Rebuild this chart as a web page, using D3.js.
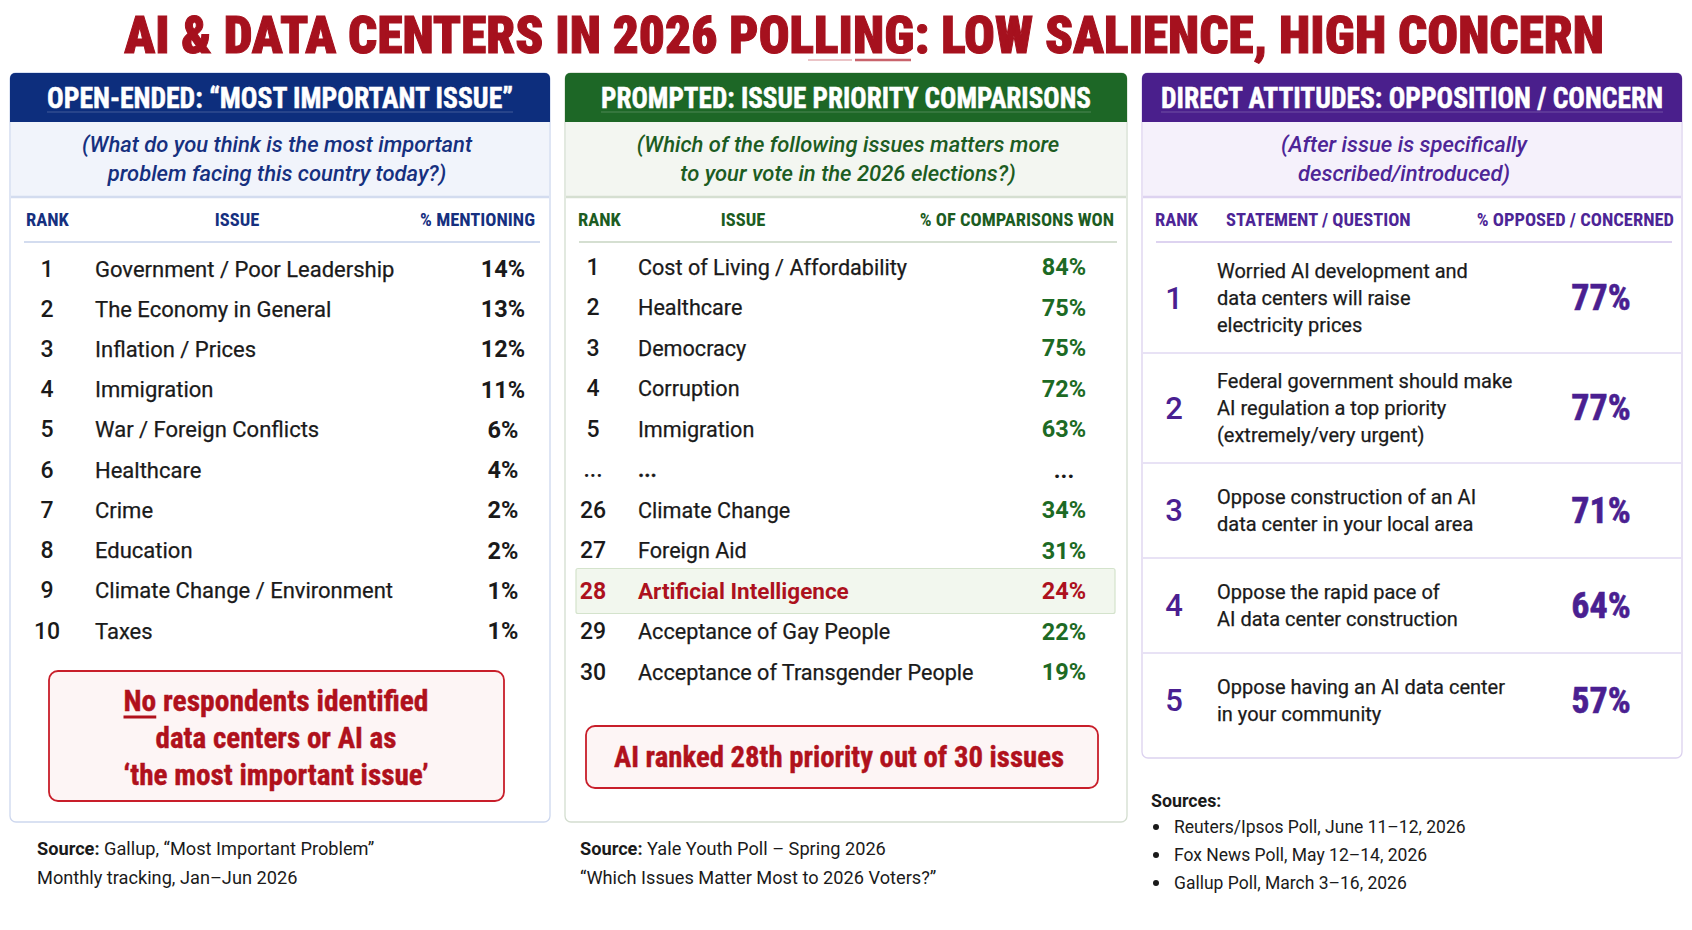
<!DOCTYPE html>
<html><head><meta charset="utf-8">
<script src="https://cdn.jsdelivr.net/npm/d3@7"></script>
<style>body{margin:0;background:#fff}svg{display:block}</style>
</head><body>
<svg id="chart" width="1692" height="930"></svg>
<script>
// ---------------- DATA ----------------
const titleText = "AI & DATA CENTERS IN 2026 POLLING: LOW SALIENCE, HIGH CONCERN";
const panelTitles = ["OPEN-ENDED: “MOST IMPORTANT ISSUE”", "PROMPTED: ISSUE PRIORITY COMPARISONS", "DIRECT ATTITUDES: OPPOSITION / CONCERN"];
const panelQuestions = [
  ["(What do you think is the most important", "problem facing this country today?)"],
  ["(Which of the following issues matters more", "to your vote in the 2026 elections?)"],
  ["(After issue is specifically", "described/introduced)"]
];
const columnHeaders = [
  ["RANK", "ISSUE", "% MENTIONING"],
  ["RANK", "ISSUE", "% OF COMPARISONS WON"],
  ["RANK", "STATEMENT / QUESTION", "% OPPOSED / CONCERNED"]
];
const openRanks = ["1","2","3","4","5","6","7","8","9","10"];
const openIssues = ["Government / Poor Leadership","The Economy in General","Inflation / Prices","Immigration","War / Foreign Conflicts","Healthcare","Crime","Education","Climate Change / Environment","Taxes"];
const openPct = [14,13,12,11,6,4,2,2,1,1];

const promptedRanks = ["1","2","3","4","5","...","26","27","28","29","30"];
const promptedIssues = ["Cost of Living / Affordability","Healthcare","Democracy","Corruption","Immigration","...","Climate Change","Foreign Aid","Artificial Intelligence","Acceptance of Gay People","Acceptance of Transgender People"];
const promptedPct = [84,75,75,72,63,null,34,31,24,22,19];
const highlightRank = "28";

const attitudeRanks = ["1","2","3","4","5"];
const attitudeStatements = [
  ["Worried AI development and","data centers will raise","electricity prices"],
  ["Federal government should make","AI regulation a top priority","(extremely/very urgent)"],
  ["Oppose construction of an AI","data center in your local area"],
  ["Oppose the rapid pace of","AI data center construction"],
  ["Oppose having an AI data center","in your community"]
];
const attitudePct = [77,77,71,64,57];

const callout1 = ["No respondents identified","data centers or AI as","‘the most important issue’"];
const callout2 = "AI ranked 28th priority out of 30 issues";
const source1 = [["Source:"," Gallup, “Most Important Problem”"],["","Monthly tracking, Jan–Jun 2026"]];
const source2 = [["Source:"," Yale Youth Poll – Spring 2026"],["","“Which Issues Matter Most to 2026 Voters?”"]];
const source3Title = "Sources:";
const source3Items = ["Reuters/Ipsos Poll, June 11–12, 2026","Fox News Poll, May 12–14, 2026","Gallup Poll, March 3–16, 2026"];

// ---------------- STYLE / LAYOUT ----------------
const NARROW = "'Roboto Condensed','Liberation Sans Narrow','DejaVu Sans Condensed','Arial Narrow',sans-serif";
const SANS = "Roboto,'Noto Sans','Liberation Sans',sans-serif";
const TEXT = "#1a1a1a";
const RED = "#ad111d";
const panels = [
  {x0:10, x1:550, bottom:822, head:"#0d2e7d", tint:"#f1f4fb", border:"#cdd7ee", sep:"#d3dcef", ink:"#16307f", titleW:466, qcx:277},
  {x0:565, x1:1127, bottom:822, head:"#1d6726", tint:"#f3f6f1", border:"#d3ddcf", sep:"#d5dfd1", ink:"#1c5c22", titleW:490, qcx:848},
  {x0:1142, x1:1682, bottom:758, head:"#4a1f8c", tint:"#f5f1fb", border:"#dcd2ef", sep:"#ddd3f0", ink:"#4d2596", titleW:502, qcx:1404}
];
const colPos = [
  [{x:26,a:"start"},{x:237,a:"middle"},{x:535,a:"end"}],
  [{x:578,a:"start"},{x:743,a:"middle"},{x:1114,a:"end"}],
  [{x:1155,a:"start"},{x:1226,a:"start"},{x:1674,a:"end"}]
];

const svg = d3.select("#chart");
svg.append("rect").attr("width",1692).attr("height",930).attr("fill","#ffffff");

function fit(sel, w){ sel.attr("textLength", w).attr("lengthAdjust","spacingAndGlyphs"); return sel; }

// Title: size the font so its natural width matches the target, then fine-fit
{
  const t = svg.append("text").attr("x",864).attr("y",53).attr("text-anchor","middle")
    .attr("font-family",NARROW).attr("font-weight",900).attr("font-size",55)
    .attr("fill","#a6111e").attr("stroke","#a6111e").attr("stroke-width",1).text(titleText);
  const w = t.node().getComputedTextLength();
  const fs = Math.max(50, Math.min(57, 55*1480/w));
  t.attr("font-size", fs);
  const w2 = t.node().getComputedTextLength();
  if (Math.abs(w2-1480) > 4) fit(t, 1480);
}
svg.append("line").attr("x1",808).attr("x2",852).attr("y1",60).attr("y2",60)
  .attr("stroke","#c0404a").attr("stroke-width",2).attr("opacity",0.3);
svg.append("line").attr("x1",855).attr("x2",911).attr("y1",60).attr("y2",60)
  .attr("stroke","#b8303c").attr("stroke-width",2.5).attr("opacity",0.75);

// Panel frames
panels.forEach((p,i)=>{
  const g = svg.append("g");
  const w = p.x1 - p.x0, cx = (p.x0+p.x1)/2;
  g.append("rect").attr("x",p.x0).attr("y",73).attr("width",w).attr("height",p.bottom-73)
    .attr("rx",6).attr("fill","#fff").attr("stroke",p.border).attr("stroke-width",1.3);
  g.append("rect").attr("x",p.x0+1).attr("y",122).attr("width",w-2).attr("height",75).attr("fill",p.tint);
  g.append("rect").attr("x",p.x0).attr("y",73).attr("width",w).attr("height",49).attr("rx",5).attr("fill",p.head);
  g.append("rect").attr("x",p.x0).attr("y",100).attr("width",w).attr("height",22).attr("fill",p.head);
  fit(g.append("text").attr("x",cx).attr("y",108).attr("text-anchor","middle")
    .attr("font-family",NARROW).attr("font-weight",700).attr("font-size",29)
    .attr("fill","#fff").attr("stroke","#fff").attr("stroke-width",0.5).text(panelTitles[i]), p.titleW);
  g.append("line").attr("x1",cx-p.titleW/2).attr("x2",cx+p.titleW/2).attr("y1",112).attr("y2",112)
    .attr("stroke","#fff").attr("stroke-opacity",0.22).attr("stroke-width",1.2);
  g.selectAll("text.q").data(panelQuestions[i]).join("text").attr("class","q")
    .attr("x",p.qcx).attr("y",(d,j)=>152+j*29).attr("text-anchor","middle")
    .attr("font-family",SANS).attr("font-style","italic").attr("font-weight",500).attr("font-size",22)
    .attr("fill",p.ink).text(d=>d);
  g.append("line").attr("x1",p.x0+1).attr("x2",p.x1-1).attr("y1",197).attr("y2",197)
    .attr("stroke",p.sep).attr("stroke-width",2.5);
  g.selectAll("text.ch").data(columnHeaders[i]).join("text").attr("class","ch")
    .attr("x",(d,j)=>colPos[i][j].x).attr("y",226).attr("text-anchor",(d,j)=>colPos[i][j].a)
    .attr("font-family",NARROW).attr("font-weight",700).attr("font-size",18.5)
    .attr("fill",p.ink).text(d=>d);
  g.append("line").attr("x1",p.x0+14).attr("x2",p.x1-10).attr("y1",242).attr("y2",242)
    .attr("stroke",p.sep).attr("stroke-width",2);
});

// Panel 1 rows
const y1 = d3.scalePoint().domain(d3.range(openRanks.length)).range([269,631]);
const g1 = svg.append("g");
const r1 = g1.selectAll("g").data(openRanks.map((r,i)=>({r, issue:openIssues[i], v:openPct[i], i}))).join("g");
r1.append("text").attr("x",47).attr("y",d=>y1(d.i)).attr("dominant-baseline","central").attr("text-anchor","middle")
  .attr("font-family",SANS).attr("font-weight",500).attr("font-size",23).attr("fill",TEXT).text(d=>d.r);
r1.append("text").attr("x",95).attr("y",d=>y1(d.i)).attr("dominant-baseline","central")
  .attr("font-family",SANS).attr("font-size",22).attr("fill",TEXT).attr("stroke",TEXT).attr("stroke-width",0.25).text(d=>d.issue);
r1.append("text").attr("x",503).attr("y",d=>y1(d.i)).attr("dominant-baseline","central").attr("text-anchor","middle")
  .attr("font-family",SANS).attr("font-weight",700).attr("font-size",23.5).attr("fill",TEXT).text(d=>d.v+"%");

// Panel 2 rows
const y2 = d3.scalePoint().domain(d3.range(promptedRanks.length)).range([268,673]);
const g2 = svg.append("g");
const hiIdx = promptedRanks.indexOf(highlightRank);
g2.append("rect").attr("x",576).attr("y",y2(hiIdx)-23.5).attr("width",539).attr("height",45).attr("rx",2)
  .attr("fill","#f2f7ee").attr("stroke","#d4e3cc").attr("stroke-width",1.2);
const rows2 = promptedRanks.map((r,i)=>({r, issue:promptedIssues[i], v:promptedPct[i], i, hi:r===highlightRank, dots:r==="..."}));
const r2 = g2.selectAll("g.r").data(rows2).join("g").attr("class","r");
r2.append("text").attr("x",593).attr("y",d=>y2(d.i)-1).attr("dominant-baseline","central").attr("text-anchor","middle")
  .attr("font-family",SANS).attr("font-weight",d=>d.hi?700:500).attr("font-size",23)
  .attr("fill",d=>d.hi?RED:TEXT).text(d=>d.r);
r2.append("text").attr("x",638).attr("y",d=>y2(d.i)-1).attr("dominant-baseline","central")
  .attr("font-family",SANS).attr("font-weight",d=>d.hi?700:(d.dots?700:400)).attr("font-size",d=>d.hi?22.5:21.6)
  .attr("fill",d=>d.hi?RED:TEXT).attr("stroke",d=>d.hi?"none":TEXT).attr("stroke-width",0.25).text(d=>d.issue);
r2.append("text").attr("x",1064).attr("y",d=>y2(d.i)-1).attr("dominant-baseline","central").attr("text-anchor","middle")
  .attr("font-family",SANS).attr("font-weight",700).attr("font-size",23.5)
  .attr("fill",d=>d.hi?RED:(d.dots?TEXT:"#1d6a24")).text(d=>d.v==null?"...":d.v+"%");

// Panel 3 rows
const g3 = svg.append("g");
let cursor = 243;
const rows3 = attitudeStatements.map((s,i)=>{ const h = 15*s.length+65; const c = cursor+h/2; const top=cursor; cursor+=h; return {s, c, top, h, i, r:attitudeRanks[i], v:attitudePct[i]}; });
const purple = "#4a1f91";
g3.selectAll("line.sep").data(rows3.slice(1)).join("line").attr("class","sep")
  .attr("x1",1143).attr("x2",1681).attr("y1",d=>d.top).attr("y2",d=>d.top)
  .attr("stroke","#e1d9f2").attr("stroke-width",1.6);
const r3 = g3.selectAll("g.r").data(rows3).join("g").attr("class","r");
r3.append("text").attr("x",1174).attr("y",d=>d.c).attr("dominant-baseline","central").attr("text-anchor","middle")
  .attr("font-family",SANS).attr("font-weight",500).attr("font-size",31).attr("fill",purple).text(d=>d.r);
r3.each(function(d){
  d3.select(this).selectAll("text.st").data(d.s).join("text").attr("class","st")
    .attr("x",1217).attr("y",(t,j)=>d.c+(j-(d.s.length-1)/2)*27).attr("dominant-baseline","central")
    .attr("font-family",SANS).attr("font-size",20).attr("fill",TEXT).attr("stroke",TEXT).attr("stroke-width",0.25).text(t=>t);
});
r3.append("text").attr("x",1601).attr("y",d=>d.c).attr("dominant-baseline","central").attr("text-anchor","middle")
  .attr("font-family",NARROW).attr("font-weight",700).attr("font-size",36).attr("fill",purple)
  .attr("stroke",purple).attr("stroke-width",0.6).text(d=>d.v+"%");

// Callouts
const c1 = svg.append("g");
c1.append("rect").attr("x",49).attr("y",671).attr("width",455).attr("height",130).attr("rx",9)
  .attr("fill","#fdf5f5").attr("stroke","#c81e2a").attr("stroke-width",1.8);
const c1w = [305,241,305];
const c1t = c1.selectAll("text").data(callout1).join("text")
  .attr("x",276).attr("y",(d,j)=>701+j*37).attr("dominant-baseline","central").attr("text-anchor","middle")
  .attr("font-family",NARROW).attr("font-weight",700).attr("font-size",29).attr("fill","#b0111c")
  .attr("stroke","#b0111c").attr("stroke-width",0.4)
  .attr("textLength",(d,j)=>c1w[j]).attr("lengthAdjust","spacingAndGlyphs").text(d=>d);
{
  const t = c1t.node();
  const s = t.getStartPositionOfChar(0), e = t.getEndPositionOfChar(1);
  c1.append("line").attr("x1",s.x).attr("x2",e.x).attr("y1",717).attr("y2",717)
    .attr("stroke","#b0111c").attr("stroke-width",3);
}
const c2 = svg.append("g");
c2.append("rect").attr("x",586).attr("y",726).attr("width",512).attr("height",62).attr("rx",9)
  .attr("fill","#fdf5f5").attr("stroke","#c81e2a").attr("stroke-width",1.8);
fit(c2.append("text").attr("x",839).attr("y",757).attr("dominant-baseline","central").attr("text-anchor","middle")
  .attr("font-family",NARROW).attr("font-weight",700).attr("font-size",29).attr("fill","#b0111c")
  .attr("stroke","#b0111c").attr("stroke-width",0.4).text(callout2), 450);

// Sources
function srcBlock(lines, x, y0){
  lines.forEach((ln,j)=>{
    const t = svg.append("text").attr("x",x).attr("y",y0+j*29).attr("dominant-baseline","central")
      .attr("font-family",SANS).attr("font-size",18.2).attr("fill",TEXT);
    if(ln[0]) t.append("tspan").attr("font-weight",700).text(ln[0]);
    t.append("tspan").text(ln[1]);
  });
}
srcBlock(source1, 37, 848);
srcBlock(source2, 580, 848);
svg.append("text").attr("x",1151).attr("y",800).attr("dominant-baseline","central")
  .attr("font-family",SANS).attr("font-weight",700).attr("font-size",17.8).attr("fill",TEXT).text(source3Title);
const sy = d3.scalePoint().domain(d3.range(source3Items.length)).range([827,883]);
svg.selectAll("circle.b").data(source3Items).join("circle").attr("class","b")
  .attr("cx",1156).attr("cy",(d,i)=>sy(i)).attr("r",3).attr("fill",TEXT);
svg.selectAll("text.si").data(source3Items).join("text").attr("class","si")
  .attr("x",1174).attr("y",(d,i)=>sy(i)).attr("dominant-baseline","central")
  .attr("font-family",SANS).attr("font-size",17.5).attr("fill",TEXT).text(d=>d);
</script>
</body></html>
